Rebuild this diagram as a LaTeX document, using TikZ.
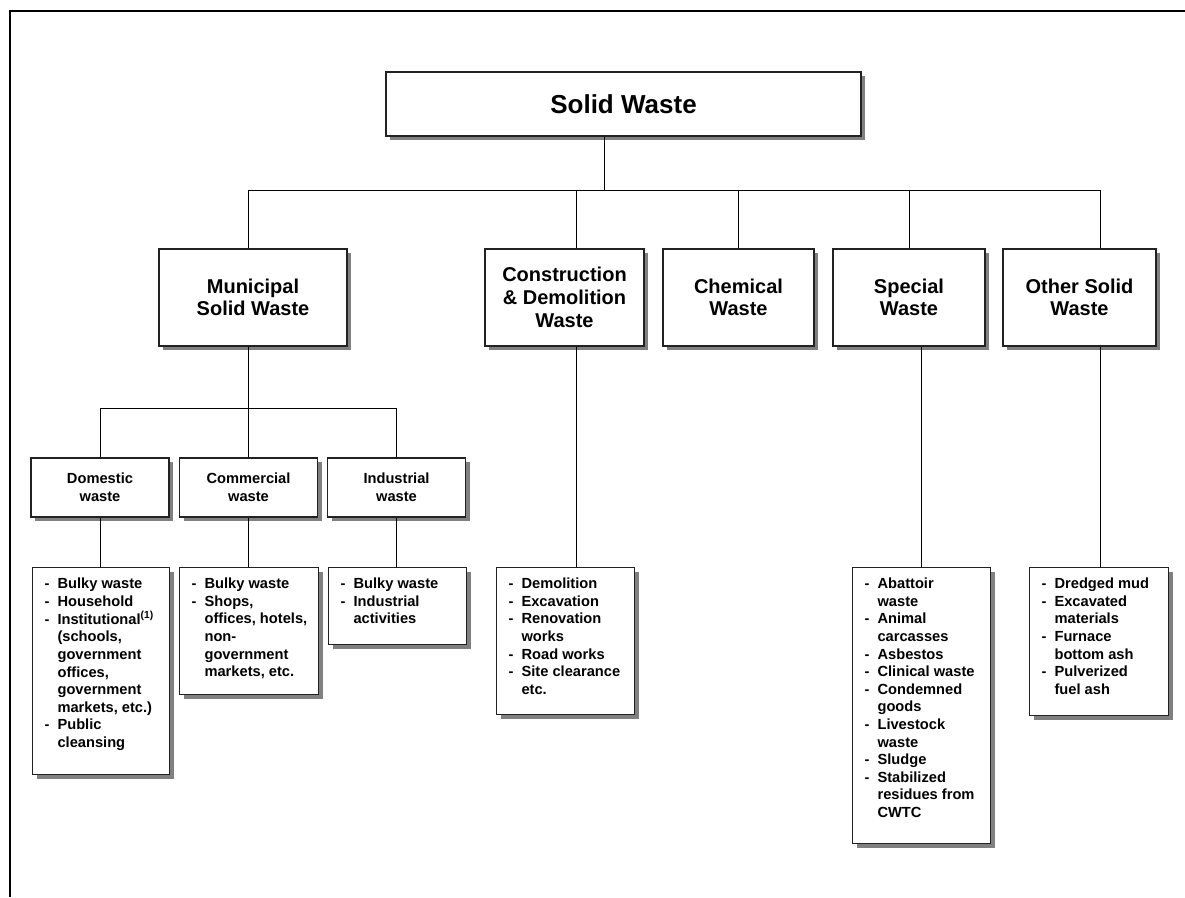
\documentclass[tikz,border=0pt]{standalone}
\usepackage{fontspec}
\setmainfont{Liberation Sans}
\usepackage{xcolor}
\usepackage{tikz}
\usetikzlibrary{positioning, calc, shadows}
\definecolor{boxLine}{HTML}{222222}
\definecolor{shadowGray}{HTML}{808080}

\tikzset{
  wastebox/.style={draw=boxLine, line width=1pt, fill=white, inner sep=0pt, align=center,
    general shadow={fill=shadowGray, shadow xshift=3pt, shadow yshift=-3pt}},
  rootbox/.style={wastebox, font=\fontsize{19.5}{23}\selectfont\bfseries},
  groupbox/.style={wastebox, minimum height=72.75pt, font=\fontsize{15}{17}\selectfont\bfseries},
  subbox/.style={wastebox, minimum height=44.25pt, font=\fontsize{11}{13.5}\selectfont\bfseries},
  listbox/.style={wastebox, anchor=north west, font=\fontsize{11}{13.2}\selectfont\bfseries},
  link/.style={draw=black, line width=0.75pt},
}

% list box body: height, width, rows
\newcommand{\wastelist}[3]{\vbox to #1{\vskip 6.5pt\hbox to #2{\begin{tabular}{@{\hspace{9pt}}l@{\hspace{6pt}}l@{}}#3\end{tabular}\hfil}\vfil}}

\begin{document}
\begin{tikzpicture}[x=0.75pt, y=-0.75pt]
        \useasboundingbox (0,0) rectangle (1185,897);
        % ── frame ──
        \draw[line width=1.5pt] (10,897) -- (10,11) -- (1185,11);

        % ── top ──
        \node[rootbox, minimum width=356.25pt, minimum height=48pt] (root) at (623.5,104) {Solid Waste};

        % ── main groups ──
        \foreach \n/\x/\w/\t in {msw/253/141pt/{Municipal\\Solid Waste},
            cdw/564.5/119.25pt/{Construction\\\& Demolition\\Waste},
            chw/738.5/113.25pt/{Chemical\\Waste},
            spw/909/114pt/{Special\\Waste},
            osw/1079.5/114.75pt/{Other Solid\\Waste}}
          \node[groupbox, minimum width=\w] (\n) at (\x,297.5) {\t};

        \coordinate (bus) at (604,190);
        \draw[link] (root.south -| bus) -- (bus);
        \foreach \n/\dx in {msw/-5, cdw/11.5, chw/0, spw/0, osw/20.5}
          \draw[link] ($(\n.north)+(\dx,0)$) |- (bus);

        % ── municipal solid waste ──
        \foreach \n/\x/\t in {dom/100/{Domestic\\waste}, com/248.5/{Commercial\\waste}, ind/396.5/{Industrial\\waste}}
          \node[subbox, minimum width=103.5pt] (\n) at (\x,487.5) {\t};

        \coordinate (mswbus) at (248,408);
        \draw[link] ($(msw.south)+(-5,0)$) -- (mswbus);
        \foreach \n in {dom, com, ind}
          \draw[link] (\n.north) |- (mswbus);

        % ── lists ──
        \node[listbox] (domlist) at (32,567) {\wastelist{155.25pt}{102.75pt}{%
          - & Bulky waste\\ - & Household\\ - & Institutional\textsuperscript{(1)}\\
            & (schools,\\ & government\\ & offices,\\ & government\\ & markets, etc.)\\
          - & Public\\ & cleansing}};
        \node[listbox] (comlist) at (179,567) {\wastelist{95.25pt}{104.25pt}{%
          - & Bulky waste\\ - & Shops,\\ & offices, hotels,\\ & non-\\ & government\\ & markets, etc.}};
        \node[listbox] (indlist) at (328,567) {\wastelist{57.75pt}{103.5pt}{%
          - & Bulky waste\\ - & Industrial\\ & activities}};
        \node[listbox] (cdlist) at (496,567) {\wastelist{110.25pt}{103.5pt}{%
          - & Demolition\\ - & Excavation\\ - & Renovation\\ & works\\ - & Road works\\
          - & Site clearance\\ & etc.}};
        \node[listbox] (splist) at (852,567) {\wastelist{207pt}{103.5pt}{%
          - & Abattoir\\ & waste\\ - & Animal\\ & carcasses\\ - & Asbestos\\ - & Clinical waste\\
          - & Condemned\\ & goods\\ - & Livestock\\ & waste\\ - & Sludge\\ - & Stabilized\\
            & residues from\\ & CWTC}};
        \node[listbox] (oslist) at (1029,567) {\wastelist{111pt}{104.25pt}{%
          - & Dredged mud\\ - & Excavated\\ & materials\\ - & Furnace\\ & bottom ash\\
          - & Pulverized\\ & fuel ash}};

        \foreach \a/\b in {dom/domlist, com/comlist, ind/indlist}
          \draw[link] (\a.south) -- (\a.south |- \b.north);
        \coordinate (cdlink) at ($(cdw.south)+(11.5,0)$);
        \draw[link] (cdlink) -- (cdlink |- cdlist.north);
        \coordinate (splink) at ($(spw.south)+(12,0)$);
        \draw[link] (splink) -- (splink |- splist.north);
        \coordinate (oslink) at ($(osw.south)+(20.5,0)$);
        \draw[link] (oslink) -- (oslink |- oslist.north);
\end{tikzpicture}
\end{document}
